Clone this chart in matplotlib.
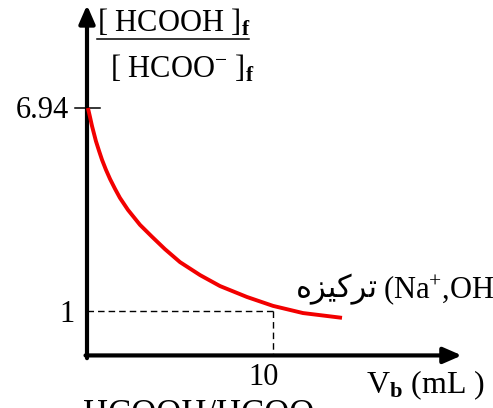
import matplotlib
matplotlib.use("Agg")
import matplotlib.pyplot as plt
from matplotlib.lines import Line2D

# Ratio [HCOOH]f / [HCOO-]f versus volume of base added Vb (mL)
vb_ml = [0.05, 0.16, 0.27, 0.38, 0.48, 0.65, 0.81, 1.02, 1.24, 1.51, 1.77,
         2.20, 2.85, 3.50, 4.19, 5.00, 6.08, 7.15, 8.60, 10.00, 11.61, 13.71]
ratio = [6.94, 6.68, 6.41, 6.18, 5.97, 5.68, 5.42, 5.13, 4.86, 4.57, 4.31,
         3.96, 3.52, 3.17, 2.81, 2.43, 2.05, 1.73, 1.41, 1.15, 0.94, 0.80]

# Marked values on the axes
y_marks = [6.94, 1]
y_mark_labels = ["6.94", "1"]
x_mark = 10
x_mark_label = "10"
ref_ratio = 1

plt.rcParams["mathtext.fontset"] = "custom"
plt.rcParams["mathtext.rm"] = "Liberation Serif"
plt.rcParams["mathtext.it"] = "Liberation Serif:italic"
plt.rcParams["mathtext.bf"] = "Liberation Serif:bold"

SERIF = ["Liberation Serif", "DejaVu Sans"]
FS = 22

W, H = 493, 408
fig = plt.figure(figsize=(W / 100, H / 100), dpi=100)
ax = fig.add_axes([0, 0, 1, 1])
ax.axis("off")
# data <-> pixel scale: x0 at px 87, 18.6 px per mL ; y=1 at px 311, 34.18 px per unit
ax.set_xlim(-87 / 18.6, (W - 87) / 18.6)
ax.set_ylim(1 - (H - 311) / 34.18, 1 + 311 / 34.18)

x_axis_y = -0.30

def fig_xy(px, py):
    return px / W, 1 - py / H

# axes drawn as arrows
arrow_kw = dict(arrowstyle="-|>,head_length=0.55,head_width=0.24",
                lw=3.0, color="black", shrinkA=0, shrinkB=0,
                mutation_scale=20)
ax.annotate("", xy=(0, 9.95), xytext=(0, x_axis_y - 0.08), arrowprops=arrow_kw)
ax.annotate("", xy=(20.15, x_axis_y), xytext=(-0.08, x_axis_y), arrowprops=arrow_kw)

# guide lines at (10, 1)
dash = (0, (4.7, 2.9))
ax.plot([0, x_mark], [ref_ratio, ref_ratio], color="black", lw=1.0, linestyle=dash)
ax.plot([x_mark, x_mark], [ref_ratio, x_axis_y], color="black", lw=1.0, linestyle=dash)

# tick across the y axis at 6.94
ax.plot([-0.65, 0.7], [y_marks[0], y_marks[0]], color="black", lw=1.1)

# curve
ax.plot(vb_ml, ratio, color="#f20000", lw=2.8, solid_capstyle="butt",
        solid_joinstyle="round", zorder=3)

# tick labels
ax.annotate(y_mark_labels[0], xy=(0, y_marks[0]), xytext=(-18, -10),
            textcoords="offset pixels", ha="right", va="baseline",
            fontsize=FS, family=SERIF)
ax.annotate(y_mark_labels[1], xy=(0, y_marks[1]), xytext=(-12, -11),
            textcoords="offset pixels", ha="right", va="baseline",
            fontsize=FS, family=SERIF)
ax.annotate(x_mark_label, xy=(x_mark, x_axis_y), xytext=(-9, -30),
            textcoords="offset pixels", ha="center", va="baseline",
            fontsize=FS, family=SERIF)

# y-axis label as a fraction
fig.text(*fig_xy(97, 32), r"[ HCOOH ]$_\mathbf{f}$", ha="left", va="baseline",
         fontsize=FS, family=SERIF)
fig.add_artist(Line2D([97 / W, 249 / W], [1 - 39 / H, 1 - 39 / H],
                      color="black", lw=1.1, transform=fig.transFigure))
fig.text(*fig_xy(110, 77), r"[ HCOO$^{-}$ ]$_\mathbf{f}$", ha="left", va="baseline",
         fontsize=FS, family=SERIF)

# x-axis label
fig.text(*fig_xy(366, 393), r"V$_\mathbf{b}$ (mL )", ha="left", va="baseline",
         fontsize=FS + 1, family=SERIF)

# surrounding text lines
fig.text(*fig_xy(378, 297), "\uFEE9\uFEB0\uFEF4\uFEDB\uFEAE\uFE97", ha="right",
         va="baseline", fontsize=FS, family=["DejaVu Sans"])
fig.text(*fig_xy(383, 298), r"(Na$^{+}$,OH$^{-}$)", ha="left", va="baseline",
         fontsize=FS, family=SERIF)
fig.text(*fig_xy(83, 424), "HCOOH/HCOO", ha="left", va="baseline",
         fontsize=25, family=SERIF)
fig.text(*fig_xy(345, 424), "\uFE94", ha="left", va="baseline",
         fontsize=22, family=["DejaVu Sans"])

fig.savefig("out.png", dpi=100)
